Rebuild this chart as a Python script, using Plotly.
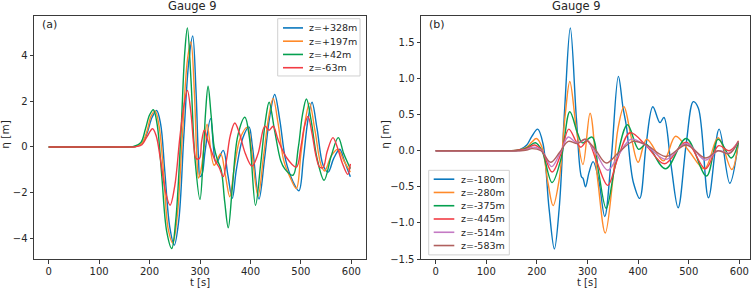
import plotly.graph_objects as go

W, H = 754, 293

# ---------------- data: panel (a) ----------------
NAMES_A = ["z=+328m", "z=+197m", "z=+42m", "z=-63m"]
COLORS_A = ["#0a78be", "#ff8a2a", "#05a04f", "#f23c44"]

T_A1 = [0, 100, 160, 172, 185, 195, 205, 214, 222, 230, 240, 249, 258, 268, 278, 285.5, 292, 297, 300, 304, 310, 321,
        332, 346, 355, 364, 372, 385, 397, 404, 417, 428, 438, 448, 458, 470, 484, 496, 505, 514, 522, 532, 544, 554,
        565, 577, 586, 598]
ETA_A1 = [0, 0, 0, 0.02, 0.15, 0.6, 1.3, 1.6, 1.0, -1.0, -3.5, -4.3, -3.2, 0.5, 3.8, 4.86, 2.5, -0.5, -1.3, -1.2, -0.2,
          1.24, -0.7, -0.15, -1.2, -2.25, -1.0, 0.4, 0.88, 0.0, -2.28, -0.5, 1.3, 2.3, 1.2, -0.6, -1.5, -1.92, -0.5,
          1.2, 1.96, 0.8, -0.8, -1.1, -0.5, -0.1, -0.6, -1.31]

T_A2 = [0, 100, 160, 172, 185, 195, 203, 211, 219, 228, 237, 246, 255, 265, 275, 282, 289, 294, 297, 302, 308, 314,
        328, 341, 350, 359, 368, 380, 394, 402, 415, 426, 436, 445, 455, 466, 480, 491, 500, 509, 517, 528, 540, 547,
        560, 573, 585, 598]
ETA_A2 = [0, 0, 0, 0.02, 0.17, 0.7, 1.35, 1.58, 0.9, -1.2, -3.6, -4.2, -3.0, 0.5, 3.8, 4.6, 2.3, -0.6, -1.36, -1.0,
          0.0, 1.0, -0.8, -0.3, -1.2, -2.18, -0.9, 0.4, 0.87, -0.1, -2.15, -0.4, 1.3, 2.13, 1.0, -0.6, -1.4, -1.82,
          -0.3, 1.2, 1.92, 0.7, -0.8, -1.05, -0.4, -0.1, -0.6, -1.1]

T_A3 = [0, 100, 158, 170, 183, 192, 200, 207.6, 215, 224, 234, 244, 252, 262, 270, 275, 282, 290, 300, 306, 311, 316,
        322, 328, 335, 342, 349, 356, 364, 375, 389, 398, 410, 420, 430, 437, 448, 460, 468, 484, 495, 503, 511, 520,
        532, 546, 560, 574, 585, 598]
ETA_A3 = [0, 0, 0, 0.03, 0.2, 0.8, 1.4, 1.63, 1.0, -1.2, -3.7, -4.45, -3.2, 0.5, 4.2, 5.22, 3.0, -0.5, -2.3, -0.6,
          1.5, 2.66, 1.4, 0.0, -0.6, -1.0, -2.4, -3.54, -1.8, 0.5, 1.3, 0.4, -2.56, -0.8, 1.2, 1.96, 0.7, -0.6, -0.96,
          -1.24, 0.0, 1.4, 2.1, 1.2, -0.5, -1.46, -0.4, 0.41, -0.3, -0.95]

T_A4 = [0, 100, 160, 172, 185, 195, 206, 213, 222, 232, 240.7, 250, 260, 268, 275, 282, 288, 292, 299, 303, 308.5,
        316, 330, 338, 346, 353, 360, 369, 378, 390, 403, 415, 428.5, 437, 445, 455, 471, 491, 500, 507, 514, 522,
        530, 537, 544, 552, 563.5, 572, 582, 593, 598]
ETA_A4 = [0, 0, 0, 0.01, 0.1, 0.45, 0.8, 0.5, -0.6, -2.0, -2.55, -1.7, 0.4, 1.8, 2.48, 1.5, 0.0, -0.5, -0.5, 0.2,
          0.73, 0.25, -0.6, -0.9, -1.3, -0.5, 0.5, 1.05, 0.6, -0.3, -0.84, -0.3, 0.91, 0.73, 0.91, 0.3, -0.45, -0.88,
          0.0, 0.9, 1.34, 0.6, -0.4, -0.88, -0.9, -0.2, 0.41, 0.0, -0.7, -1.2, -0.74]

# ---------------- data: panel (b) ----------------
NAMES_B = ["z=-180m", "z=-280m", "z=-375m", "z=-445m", "z=-514m", "z=-583m"]
COLORS_B = ["#0a78be", "#ff8a2a", "#05a04f", "#f23c44", "#c47ac4", "#b0605e"]

T_B1 = [0, 100, 150, 165, 180, 190, 201.5, 212, 224, 234.5, 244, 255, 266, 278, 288, 291, 296, 303, 311, 322, 334,
        347, 361, 370, 377, 385, 391, 403, 416, 429, 443, 451, 465, 479, 495, 509, 519, 539, 560, 581, 598]
ETA_B1 = [0, 0, 0, 0.01, 0.08, 0.2, 0.30, 0.1, -0.8, -1.36, -0.8, 0.6, 1.70, 0.45, -0.36, -0.38, -0.5, -0.3, -0.15,
          -0.4, -0.91, -0.1, 1.03, 0.6, 0.33, -0.2, -0.45, -0.66, 0.1, 0.61, 0.39, 0.46, -0.2, -0.79, 0.1, 0.68, 0.59,
          -0.65, 0.30, -0.45, 0.11]

T_B2 = [0, 100, 150, 165, 180, 190, 199, 210, 222, 232, 244, 256, 265, 278, 291, 305, 320, 335, 350, 360, 372, 386,
        400, 417, 450, 474, 500, 531, 558, 585, 598]
ETA_B2 = [0, 0, 0, 0.01, 0.05, 0.12, 0.17, 0.05, -0.45, -0.76, -0.4, 0.5, 0.96, 0.3, -0.19, 0.52, -0.4, -1.14, -0.4,
          0.3, 0.61, 0.2, -0.16, 0.16, -0.14, 0.2, 0.0, -0.25, 0.18, -0.26, 0.14]

T_B3 = [0, 100, 150, 165, 180, 197, 210, 230, 248, 265, 280, 290, 309, 322, 337, 355, 379, 401, 416, 454, 495, 535,
        558, 584, 598]
ETA_B3 = [0, 0, 0, 0.01, 0.04, 0.11, 0.0, -0.44, -0.1, 0.54, 0.25, 0.11, 0.19, -0.3, -0.8, -0.2, 0.36, 0.02, 0.09,
          -0.25, 0.17, -0.35, 0.16, -0.1, 0.12]

T_B4 = [0, 100, 150, 165, 180, 195, 210, 230, 247, 263, 278, 287, 300, 318, 340, 360, 384, 416, 452, 495, 533, 559,
        580, 598]
ETA_B4 = [0, 0, 0, 0.01, 0.03, 0.08, 0.0, -0.295, -0.05, 0.30, 0.12, 0.05, 0.14, -0.15, -0.48, -0.1, 0.25, 0.07,
          -0.18, 0.12, -0.25, 0.07, 0.0, 0.13]

T_B5 = [0, 100, 150, 165, 180, 193, 210, 229, 246, 262, 276, 287, 296, 318, 340, 362, 386, 416, 455, 495, 533, 558,
        580, 598]
ETA_B5 = [0, 0, 0, 0.0, 0.02, 0.05, 0.0, -0.22, -0.03, 0.19, 0.12, 0.12, 0.16, -0.05, -0.27, -0.05, 0.16, 0.07,
          -0.12, 0.10, -0.13, 0.0, -0.03, 0.13]

T_B6 = [0, 100, 150, 165, 180, 190, 208, 227, 245, 262, 280, 295, 315, 337, 362, 390, 416, 455, 495, 533, 558, 580,
        598]
ETA_B6 = [0, 0, 0, 0.0, 0.01, 0.03, 0.0, -0.16, -0.02, 0.13, 0.10, 0.16, 0.02, -0.17, -0.02, 0.13, 0.08, -0.08, 0.08,
          -0.10, 0.0, -0.04, 0.13]

TICKS_X = [0, 100, 200, 300, 400, 500, 600]
TICKS_YA = [-4, -2, 0, 2, 4]
TICKS_YB = [-1.5, -1.0, -0.5, 0.0, 0.5, 1.0, 1.5]

SERIES_A = [(T_A1, ETA_A1), (T_A2, ETA_A2), (T_A3, ETA_A3), (T_A4, ETA_A4)]
SERIES_B = [(T_B1, ETA_B1), (T_B2, ETA_B2), (T_B3, ETA_B3), (T_B4, ETA_B4), (T_B5, ETA_B5), (T_B6, ETA_B6)]

# ---------------- figure ----------------
fig = go.Figure()
for (t, e), name, col in zip(SERIES_A, NAMES_A, COLORS_A):
    fig.add_trace(go.Scatter(x=t, y=e, mode="lines", name=name, xaxis="x", yaxis="y",
                             line=dict(color=col, width=1.4, shape="spline", smoothing=1.0), showlegend=False))
for (t, e), name, col in zip(SERIES_B, NAMES_B, COLORS_B):
    fig.add_trace(go.Scatter(x=t, y=e, mode="lines", name=name, xaxis="x2", yaxis="y2",
                             line=dict(color=col, width=1.4, shape="spline", smoothing=1.0), showlegend=False))

def px_x(p):
    return p / W

def px_y(p):
    return 1 - p / H

FONT = "DejaVu Sans"
AX = dict(showline=True, mirror=True, linecolor="#3a3a3a", linewidth=1, ticks="outside", ticklen=3.5,
          tickwidth=1, tickcolor="#3a3a3a", showgrid=False, zeroline=False,
          tickfont=dict(family=FONT, size=10, color="#262626"))

fig.update_layout(
    width=W, height=H, margin=dict(l=0, r=0, t=0, b=0),
    paper_bgcolor="white", plot_bgcolor="white", showlegend=False,
    xaxis=dict(AX, domain=[px_x(34), px_x(366)], range=[-29, 629], tickvals=TICKS_X, anchor="y",
               ticklabelstandoff=-1),
    yaxis=dict(AX, domain=[px_y(264), px_y(16)], range=[-4.93, 5.75], tickvals=TICKS_YA, anchor="x"),
    xaxis2=dict(AX, domain=[px_x(421), px_x(750)], range=[-29, 621], tickvals=TICKS_X, anchor="y2",
                ticklabelstandoff=-1),
    yaxis2=dict(AX, domain=[px_y(264), px_y(16)], range=[-1.506, 1.87], tickvals=TICKS_YB, tickformat=".1f",
                anchor="x2"),
)

ann = []
def text(x, y, s, size, xanchor="center", angle=0, pad=1):
    ann.append(dict(x=px_x(x), y=px_y(y), xref="paper", yref="paper", text=s, showarrow=False,
                    xanchor=xanchor, yanchor="middle", textangle=angle, borderpad=pad,
                    font=dict(family=FONT, size=size, color="#262626")))

text(192, 6, "Gauge 9", 11.5)
text(576, 6, "Gauge 9", 11.5)
text(40, 25, "(a)", 11, "left")
text(427, 25, "(b)", 11, "left")
text(200, 287.5, "t [s]", 10, pad=0)
text(587, 287.5, "t [s]", 10, pad=0)
text(5, 137, "η [m]", 10.5, angle=-90)
text(385, 137, "η [m]", 10.5, angle=-90)

shapes = []
def legend(box, y0, dy, lx0, lx1, tx, names, colors):
    shapes.append(dict(type="rect", xref="paper", yref="paper", x0=px_x(box[0]), x1=px_x(box[1]),
                       y0=px_y(box[3]), y1=px_y(box[2]), line=dict(color="#d0d0d0", width=1),
                       fillcolor="rgba(255,255,255,0.85)", layer="above"))
    for i, (n, c) in enumerate(zip(names, colors)):
        y = y0 + dy * i
        shapes.append(dict(type="line", xref="paper", yref="paper", x0=px_x(lx0), x1=px_x(lx1),
                           y0=px_y(y), y1=px_y(y), line=dict(color=c, width=1.6), layer="above"))
        text(tx, y, n, 9.5, "left")

legend((277.7, 360, 19, 77.3), 28.4, 13.5, 283, 303, 307, NAMES_A, COLORS_A)
legend((428.7, 509.3, 173.3, 259.3), 182.3, 13.5, 433.7, 454.3, 458.5, NAMES_B, COLORS_B)

fig.update_layout(annotations=ann, shapes=shapes)
fig.write_html("out.html", config={"displayModeBar": False},
               post_script="document.body.style.margin='0';document.body.style.padding='0';")
